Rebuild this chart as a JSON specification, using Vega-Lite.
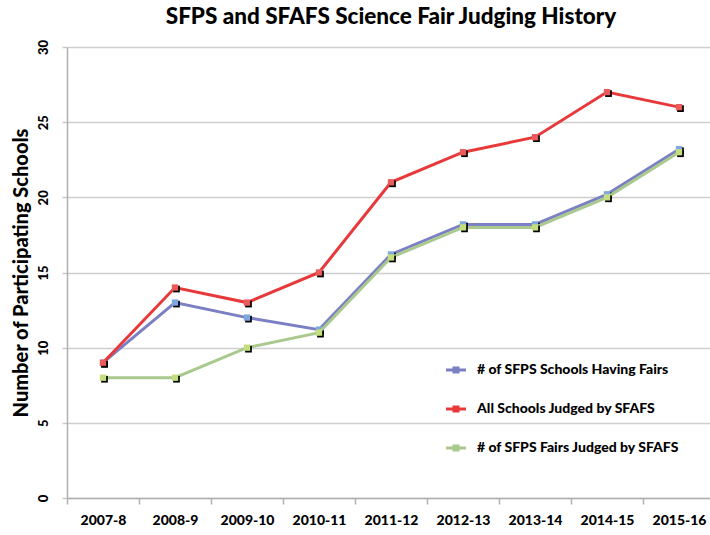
{
  "$schema": "https://vega.github.io/schema/vega-lite/v6.json",
  "autosize": "none",
  "padding": {"left": 67, "top": 47, "right": 0, "bottom": 37},
  "width": 648,
  "height": 451,
  "background": "white",
  "title": {
    "text": "SFPS and SFAFS Science Fair Judging History",
    "font": "Lato",
    "fontSize": 22.5,
    "fontWeight": 900,
    "color": "black",
    "anchor": "middle",
    "offset": 11
  },
  "config": {
    "view": {"stroke": null},
    "font": "Lato"
  },
  "data": {
    "values": [
      {"season": "2007-8", "series": "# of SFPS Schools Having Fairs", "value": 9},
      {"season": "2008-9", "series": "# of SFPS Schools Having Fairs", "value": 13},
      {"season": "2009-10", "series": "# of SFPS Schools Having Fairs", "value": 12},
      {"season": "2010-11", "series": "# of SFPS Schools Having Fairs", "value": 11.2},
      {"season": "2011-12", "series": "# of SFPS Schools Having Fairs", "value": 16.2},
      {"season": "2012-13", "series": "# of SFPS Schools Having Fairs", "value": 18.2},
      {"season": "2013-14", "series": "# of SFPS Schools Having Fairs", "value": 18.2},
      {"season": "2014-15", "series": "# of SFPS Schools Having Fairs", "value": 20.2},
      {"season": "2015-16", "series": "# of SFPS Schools Having Fairs", "value": 23.2},
      {"season": "2007-8", "series": "All Schools Judged by SFAFS", "value": 9},
      {"season": "2008-9", "series": "All Schools Judged by SFAFS", "value": 14},
      {"season": "2009-10", "series": "All Schools Judged by SFAFS", "value": 13},
      {"season": "2010-11", "series": "All Schools Judged by SFAFS", "value": 15},
      {"season": "2011-12", "series": "All Schools Judged by SFAFS", "value": 21},
      {"season": "2012-13", "series": "All Schools Judged by SFAFS", "value": 23},
      {"season": "2013-14", "series": "All Schools Judged by SFAFS", "value": 24},
      {"season": "2014-15", "series": "All Schools Judged by SFAFS", "value": 27},
      {"season": "2015-16", "series": "All Schools Judged by SFAFS", "value": 26},
      {"season": "2007-8", "series": "# of SFPS Fairs Judged by SFAFS", "value": 8},
      {"season": "2008-9", "series": "# of SFPS Fairs Judged by SFAFS", "value": 8},
      {"season": "2009-10", "series": "# of SFPS Fairs Judged by SFAFS", "value": 10},
      {"season": "2010-11", "series": "# of SFPS Fairs Judged by SFAFS", "value": 11},
      {"season": "2011-12", "series": "# of SFPS Fairs Judged by SFAFS", "value": 16},
      {"season": "2012-13", "series": "# of SFPS Fairs Judged by SFAFS", "value": 18},
      {"season": "2013-14", "series": "# of SFPS Fairs Judged by SFAFS", "value": 18},
      {"season": "2014-15", "series": "# of SFPS Fairs Judged by SFAFS", "value": 20},
      {"season": "2015-16", "series": "# of SFPS Fairs Judged by SFAFS", "value": 23}
    ]
  },
  "encoding": {
    "x": {
      "field": "season",
      "type": "ordinal",
      "sort": null,
      "scale": {"type": "band", "paddingInner": 0, "paddingOuter": 0},
      "axis": {
        "title": null,
        "labelAngle": 0,
        "labelFont": "Lato",
        "labelFontSize": 14,
        "labelFontWeight": 900,
        "labelColor": "black",
        "labelPadding": 9,
        "domainColor": "#b0b0b0",
        "domainWidth": 1.5,
        "tickColor": "#b0b0b0",
        "tickWidth": 1.5,
        "tickSize": 6,
        "tickBand": "extent",
        "grid": false
      }
    },
    "y": {
      "field": "value",
      "type": "quantitative",
      "scale": {"domain": [0, 30], "nice": false},
      "axis": {
        "title": "Number of Participating Schools",
        "titleFont": "Lato",
        "titleFontSize": 20,
        "titleFontWeight": 900,
        "titleColor": "black",
        "titlePadding": 6,
        "values": [0, 5, 10, 15, 20, 25, 30],
        "labelAngle": -90,
        "labelFont": "Lato",
        "labelFontSize": 13,
        "labelFontWeight": 900,
        "labelColor": "black",
        "labelPadding": 12,
        "labelAlign": "center",
        "labelBaseline": "bottom",
        "domainColor": "#b0b0b0",
        "domainWidth": 1.5,
        "tickColor": "#c8c8c8",
        "tickWidth": 1.5,
        "tickSize": 5,
        "grid": true,
        "gridColor": "#cfcfcf",
        "gridWidth": 1.5
      }
    }
  },
  "layer": [
    {
      "transform": [{"filter": "datum.series === '# of SFPS Schools Having Fairs'"}],
      "layer": [
        {
          "mark": {"type": "line", "strokeWidth": 3},
          "encoding": {
            "color": {
              "field": "series",
              "type": "nominal",
              "scale": {
                "domain": ["# of SFPS Schools Having Fairs", "All Schools Judged by SFAFS", "# of SFPS Fairs Judged by SFAFS"],
                "range": ["#7b7fc4", "#e8393a", "#a9c98e"]
              },
              "legend": {
                "title": null,
                "orient": "none",
                "legendX": 379,
                "legendY": 313,
                "symbolType": "M-1,-0.14H1V0.14H-1Z M-0.35,-0.35H0.35V0.35H-0.35Z",
                "symbolSize": 400,
                "symbolStrokeWidth": 0,
                "symbolOpacity": 1,
                "labelFont": "Lato",
                "labelFontSize": 14,
                "labelFontWeight": 900,
                "labelColor": "black",
                "labelOffset": 11,
                "labelLimit": 400,
                "rowPadding": 22,
                "encode": {
                  "symbols": {"update": {"fill": {"scale": "color", "field": "value"}}}
                }
              }
            }
          }
        },
        {"mark": {"type": "point", "shape": "square", "filled": true, "size": 45, "color": "black", "xOffset": 1.5, "yOffset": 1.5, "opacity": 1}},
        {"mark": {"type": "point", "shape": "square", "filled": true, "size": 40, "color": "#7ea6e0", "opacity": 1}}
      ]
    },
    {
      "transform": [{"filter": "datum.series === 'All Schools Judged by SFAFS'"}],
      "layer": [
        {
          "mark": {"type": "line", "strokeWidth": 3},
          "encoding": {"color": {"field": "series", "type": "nominal"}}
        },
        {"mark": {"type": "point", "shape": "square", "filled": true, "size": 45, "color": "black", "xOffset": 1.5, "yOffset": 1.5, "opacity": 1}},
        {"mark": {"type": "point", "shape": "square", "filled": true, "size": 40, "color": "#ea5b5b", "opacity": 1}}
      ]
    },
    {
      "transform": [{"filter": "datum.series === '# of SFPS Fairs Judged by SFAFS'"}],
      "layer": [
        {
          "mark": {"type": "line", "strokeWidth": 3},
          "encoding": {"color": {"field": "series", "type": "nominal"}}
        },
        {"mark": {"type": "point", "shape": "square", "filled": true, "size": 45, "color": "black", "xOffset": 1.5, "yOffset": 1.5, "opacity": 1}},
        {"mark": {"type": "point", "shape": "square", "filled": true, "size": 40, "color": "#c3dd7f", "opacity": 1}}
      ]
    }
  ]
}
